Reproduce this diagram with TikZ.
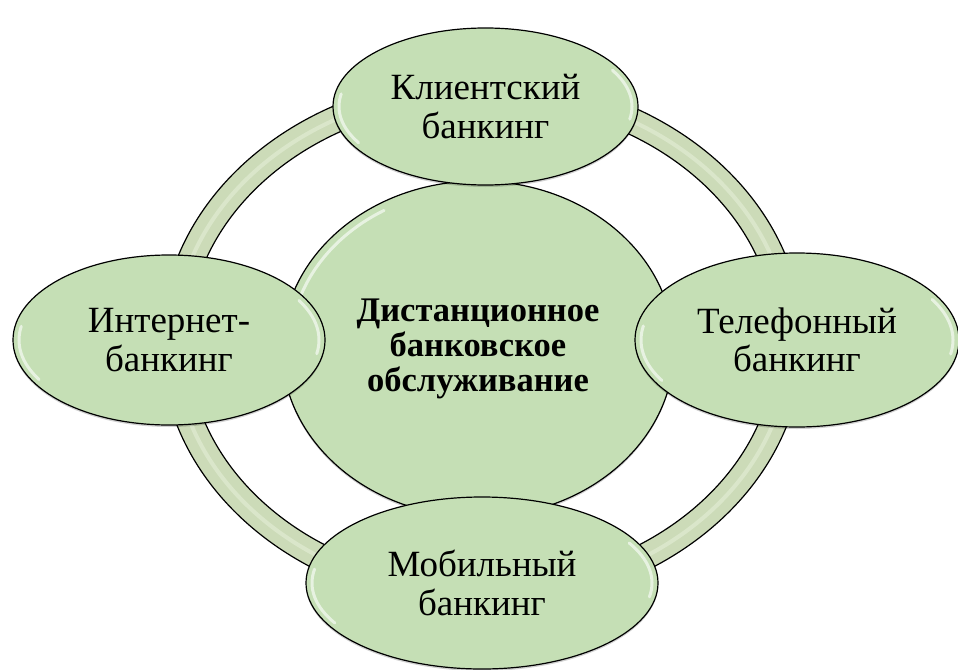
\documentclass[tikz,border=0pt]{standalone}
\usepackage{fontspec}
\setmainfont{Liberation Serif}
\usetikzlibrary{shapes.geometric,shadows}
\definecolor{bubblefill}{HTML}{C5DFB5}
\definecolor{ringfill}{HTML}{CCDBB8}
\definecolor{ringhi}{HTML}{E8F2DC}
\begin{document}
\begin{tikzpicture}[x=1pt,y=-1pt,
  bubble/.style={ellipse, draw=black, line width=1.2pt, fill=bubblefill,
    inner sep=0pt, outer sep=0pt, align=center,
    font=\fontsize{37}{38.5}\selectfont,
    drop shadow={shadow xshift=0pt, shadow yshift=-2pt, opacity=0.18, fill=black}},
  centerbubble/.style={bubble, font=\fontsize{34.5}{35}\selectfont\bfseries},
  hl/.style={white, opacity=0.6, line width=3pt, line cap=round},
  ringedge/.style={draw=black, line width=1.2pt}
]
\useasboundingbox (0,0) rectangle (958,669);
% ring
\fill[ringfill, even odd rule]
  (482,342) ellipse [x radius=321, y radius=266]
  (482,342) ellipse [x radius=294, y radius=240];
\draw[ringhi, line width=4pt, opacity=0.5] (482,342) ellipse [x radius=307.5, y radius=253];
\draw[ringedge] (482,342) ellipse [x radius=321, y radius=266];
\draw[ringedge] (482,342) ellipse [x radius=294, y radius=240];
% central bubble
\node[centerbubble, minimum width=392pt, minimum height=336pt] (c) at (478,349)
  {Дистанционное\\банковское\\обслуживание};
\draw[hl] ({478+188*cos(200)},{349+160*sin(200)}) arc[start angle=200, end angle=240, x radius=188, y radius=160];
% outer bubbles
\node[bubble, minimum width=305pt, minimum height=157pt] (t) at (485.5,106.5) {Клиентский\\банкинг};
\node[bubble, minimum width=312pt, minimum height=170pt] (l) at (169,340) {Интернет-\\банкинг};
\node[bubble, minimum width=324pt, minimum height=174pt] (r) at (797,340) {Телефонный\\банкинг};
\node[bubble, minimum width=352pt, minimum height=172pt] (b) at (482,583) {Мобильный\\банкинг};
% highlights
\foreach \cx/\cy/\rx/\ry in {485.5/106.5/152.5/78.5, 169/340/156/85, 797/340/162/87, 482/583/176/86}{
  \draw[hl] ({\cx+(\rx-6)*cos(150)},{\cy+(\ry-6)*sin(150)}) arc[start angle=150, end angle=190, x radius={\rx-6}, y radius={\ry-6}];
  \draw[hl] ({\cx+(\rx-6)*cos(-30)},{\cy+(\ry-6)*sin(-30)}) arc[start angle=-30, end angle=10, x radius={\rx-6}, y radius={\ry-6}];
}
\end{tikzpicture}
\end{document}
